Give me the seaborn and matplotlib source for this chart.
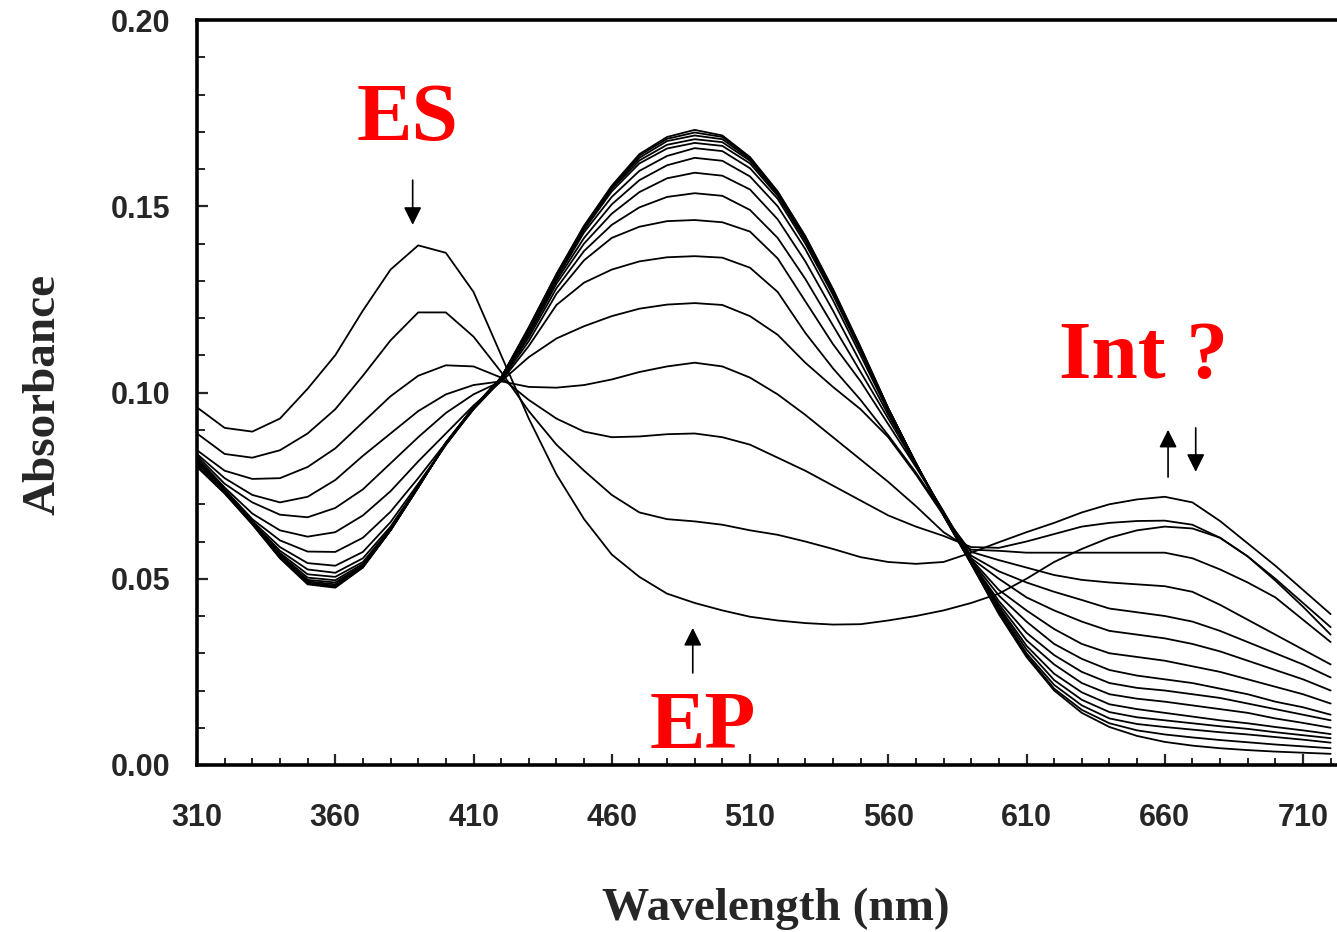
import pandas as pd
import matplotlib
matplotlib.use('Agg')
import matplotlib.pyplot as plt
from matplotlib.ticker import MultipleLocator, FormatStrFormatter
import seaborn as sns

# wavelength grid (nm) the spectra were read on
WAVELENGTH = list(range(310, 721, 10))

# absorbance of each scan (scan 0 = ES ... scan 15 = EP)
SCAN_00 = [.096, .0905, .0895, .093, .101, .110, .122, .133, .1395, .1375, .127, .110, .093, .078,
           .066, .0565, .0505, .046, .0435, .0415, .0398, .0388, .0381, .0377, .0378, .0388, .040,
           .0415, .0435, .046, .050, .0545, .058, .061, .063, .064, .0635, .061, .056, .050, .0435, .037]
SCAN_01 = [.089, .0835, .0825, .0845, .089, .0955, .1045, .114, .1215, .1215, .115, .1055, .095, .086,
           .079, .0725, .0678, .066, .0654, .0645, .063, .0618, .060, .058, .0558, .0545, .054,
           .0545, .057, .0598, .0625, .065, .0678, .070, .0713, .072, .0705, .0655, .0595, .0535, .047, .0405]
SCAN_02 = [.0845, .079, .0768, .077, .080, .085, .092, .099, .1045, .1073, .107, .104, .098, .093,
           .0895, .088, .0882, .0888, .089, .088, .086, .0825, .079, .075, .071, .067, .064,
           .0615, .0585, .0583, .060, .062, .064, .065, .0655, .0656, .0645, .061, .056, .0495, .0425, .035]
SCAN_03 = [.0835, .077, .0725, .0705, .072, .0765, .083, .089, .095, .0995, .102, .103, .1015, .1013,
           .102, .1035, .1055, .107, .108, .107, .104, .0995, .094, .088, .082, .076, .0695,
           .0625, .0578, .0575, .057, .057, .057, .057, .057, .057, .0555, .0525, .049, .045, .039, .033]
SCAN_04 = [.083, .0755, .0705, .0672, .0665, .069, .074, .081, .088, .0945, .0995, .103, .1095, .1145,
           .1178, .1205, .1225, .1236, .124, .1235, .1205, .1155, .108, .1015, .0955, .088, .078,
           .067, .0572, .055, .053, .051, .0497, .049, .0485, .048, .0465, .043, .039, .035, .031, .027]
SCAN_05 = [.0825, .0745, .0675, .063, .0613, .0625, .067, .0735, .0815, .089, .0965, .103, .1125, .1235,
           .1295, .133, .1352, .1363, .1366, .1362, .1335, .127, .116, .1065, .098, .0885, .0785,
           .0675, .0562, .052, .049, .0465, .0443, .042, .041, .040, .0385, .036, .033, .030, .027, .0235]
SCAN_06 = [.082, .074, .066, .0603, .0573, .0572, .061, .068, .077, .0865, .0955, .1033, .1138, .1265,
           .1355, .1415, .1445, .146, .1463, .1457, .1432, .136, .1245, .113, .103, .0915, .080,
           .068, .0555, .050, .045, .0415, .0385, .036, .035, .034, .0325, .0305, .028, .0255, .023, .020]
SCAN_07 = [.0818, .0738, .0655, .0585, .0542, .0535, .0572, .0652, .0755, .086, .0955, .1035, .1148, .128,
           .138, .145, .1497, .1525, .1535, .1528, .149, .1415, .1305, .118, .1055, .093, .0805,
           .068, .0552, .047, .0415, .0365, .0325, .030, .029, .028, .0265, .025, .023, .021, .019, .0165]
SCAN_08 = [.0815, .0737, .0653, .0575, .0525, .0516, .0555, .064, .075, .086, .0957, .1037, .1155, .1292,
           .140, .148, .1538, .1575, .159, .1582, .1545, .1465, .1352, .122, .108, .094, .0808,
           .0677, .0549, .0455, .0385, .0325, .0285, .0255, .024, .023, .022, .0205, .019, .017, .0155, .0135]
SCAN_09 = [.0812, .0735, .0652, .0569, .0512, .0505, .0545, .0635, .0748, .086, .0958, .1038, .116, .130,
           .1415, .1505, .157, .161, .163, .1622, .158, .150, .1385, .1248, .110, .0948, .081,
           .0675, .0546, .044, .0355, .0295, .025, .022, .0207, .020, .019, .018, .0165, .015, .0135, .012]
SCAN_10 = [.081, .0734, .0651, .0565, .0503, .0496, .054, .0633, .0747, .0862, .0959, .1039, .1165, .1305,
           .143, .1525, .1595, .1635, .1656, .1648, .1602, .152, .140, .1262, .111, .0952, .081,
           .0673, .0544, .0432, .0335, .027, .022, .019, .0178, .017, .016, .015, .014, .0125, .0113, .010]
SCAN_11 = [.0808, .0733, .065, .0562, .0497, .049, .0536, .0632, .0746, .0863, .096, .104, .1168, .131,
           .1437, .154, .1615, .1655, .167, .1662, .1615, .1528, .1408, .1268, .1115, .0955, .081,
           .0672, .0543, .0425, .032, .0245, .0195, .0163, .015, .014, .013, .012, .0112, .0102, .0093, .0083]
SCAN_12 = [.0806, .0732, .0649, .056, .0493, .0485, .0534, .0631, .0746, .0864, .096, .104, .117, .1313,
           .1441, .1546, .1623, .1665, .168, .1672, .1622, .1533, .1412, .127, .1117, .0956, .081,
           .0671, .0542, .042, .031, .0228, .0175, .0142, .0128, .012, .0112, .0104, .0097, .0088, .008, .0072]
SCAN_13 = [.0804, .0731, .0648, .0558, .049, .0481, .0532, .063, .0745, .0865, .096, .104, .1172, .1315,
           .1444, .155, .163, .1675, .169, .168, .1626, .1536, .1415, .1273, .1118, .0957, .081,
           .067, .0541, .0415, .030, .0215, .016, .0125, .011, .0102, .0095, .0088, .0082, .0075, .0068, .006]
SCAN_14 = [.0802, .073, .0647, .0556, .0487, .0478, .0531, .063, .0745, .0865, .096, .104, .1174, .1317,
           .1446, .1553, .1636, .1681, .1698, .1686, .163, .1538, .1418, .1276, .112, .0957, .081,
           .067, .054, .041, .0295, .0205, .0148, .0112, .0093, .0082, .0074, .0067, .0061, .0055, .005, .0045]
SCAN_15 = [.080, .0729, .0646, .0555, .0485, .0476, .053, .063, .0745, .0865, .096, .104, .1175, .1318,
           .1448, .1555, .164, .1686, .1705, .169, .1632, .154, .142, .1278, .1122, .0958, .081,
           .067, .054, .0405, .029, .020, .014, .0102, .0078, .0062, .0052, .0045, .004, .0036, .0033, .003]

SCANS = [SCAN_00, SCAN_01, SCAN_02, SCAN_03, SCAN_04, SCAN_05, SCAN_06, SCAN_07,
         SCAN_08, SCAN_09, SCAN_10, SCAN_11, SCAN_12, SCAN_13, SCAN_14, SCAN_15]

# labels and where they sit (wavelength, absorbance)
LABELS = ['ES', 'EP', 'Int ?']
LABEL_POS = [(386.3, 0.1678), (492.8, 0.0046), (652.5, 0.1039)]
# arrows: (tail, head)
ARROWS = [((388.0, 0.157), (388.0, 0.145)),
          ((489.3, 0.0247), (489.3, 0.0368)),
          ((661.2, 0.0773), (661.2, 0.0900)),
          ((671.2, 0.0905), (671.2, 0.0787))]

rows = []
for i, scan in enumerate(SCANS):
    for wl, a in zip(WAVELENGTH, scan):
        rows.append((i, wl, a))
spectra = pd.DataFrame(rows, columns=['scan', 'wavelength', 'absorbance'])

sns.set_style('white')
plt.rcParams['font.family'] = ['Liberation Sans', 'DejaVu Sans']
plt.rcParams['font.weight'] = 'bold'

fig = plt.figure(figsize=(13.37, 9.32), dpi=100)
ax = fig.add_axes([197 / 1337, 167 / 932, 1140 / 1337, 745 / 932])

sns.lineplot(data=spectra, x='wavelength', y='absorbance', units='scan',
             estimator=None, color='black', lw=1.3, ax=ax, legend=False)

ax.set_xlim(310, 310 + 1140 / 2.765)
ax.set_ylim(0, 0.2)

ax.set_xticks(range(310, 711, 50))
ax.xaxis.set_minor_locator(MultipleLocator(10))
ax.set_yticks([0, 0.05, 0.10, 0.15, 0.20])
ax.yaxis.set_minor_locator(MultipleLocator(0.01))
ax.yaxis.set_major_formatter(FormatStrFormatter('%.2f'))

ax.tick_params(axis='x', which='major', direction='in', length=8, width=1.6,
               pad=27, labelsize=22, top=False, bottom=True)
ax.tick_params(axis='x', which='minor', direction='in', length=5, width=1.4,
               top=False, bottom=True)
ax.tick_params(axis='y', which='major', direction='in', length=8, width=1.6,
               pad=19, labelsize=22, right=False, left=True)
ax.tick_params(axis='y', which='minor', direction='in', length=6, width=1.4,
               right=False, left=True)

for side in ['left', 'bottom', 'top']:
    ax.spines[side].set_linewidth(2.6)
    ax.spines[side].set_color('black')
ax.spines['right'].set_visible(False)

ax.set_xlabel('Wavelength (nm)', fontfamily='Liberation Serif', fontweight='bold', fontsize=34)
ax.xaxis.label.set_va('baseline')
ax.xaxis.set_label_coords(0.508, -0.208)
ax.set_ylabel('Absorbance', fontfamily='Liberation Serif', fontweight='bold', fontsize=34)
ax.yaxis.label.set_va('baseline')
ax.yaxis.set_label_coords(-0.1246, 0.497)

for text, (x, y) in zip(LABELS, LABEL_POS):
    ax.text(x, y, text, color='red', fontfamily='Liberation Serif', fontweight='bold',
            fontsize=60, ha='center', va='baseline')

for tail, head in ARROWS:
    ax.annotate('', xy=head, xytext=tail,
                arrowprops=dict(arrowstyle='-|>,head_length=0.6,head_width=0.3',
                                color='black', lw=1.2, mutation_scale=18,
                                shrinkA=0, shrinkB=0))

fig.savefig('out.png', dpi=100)
